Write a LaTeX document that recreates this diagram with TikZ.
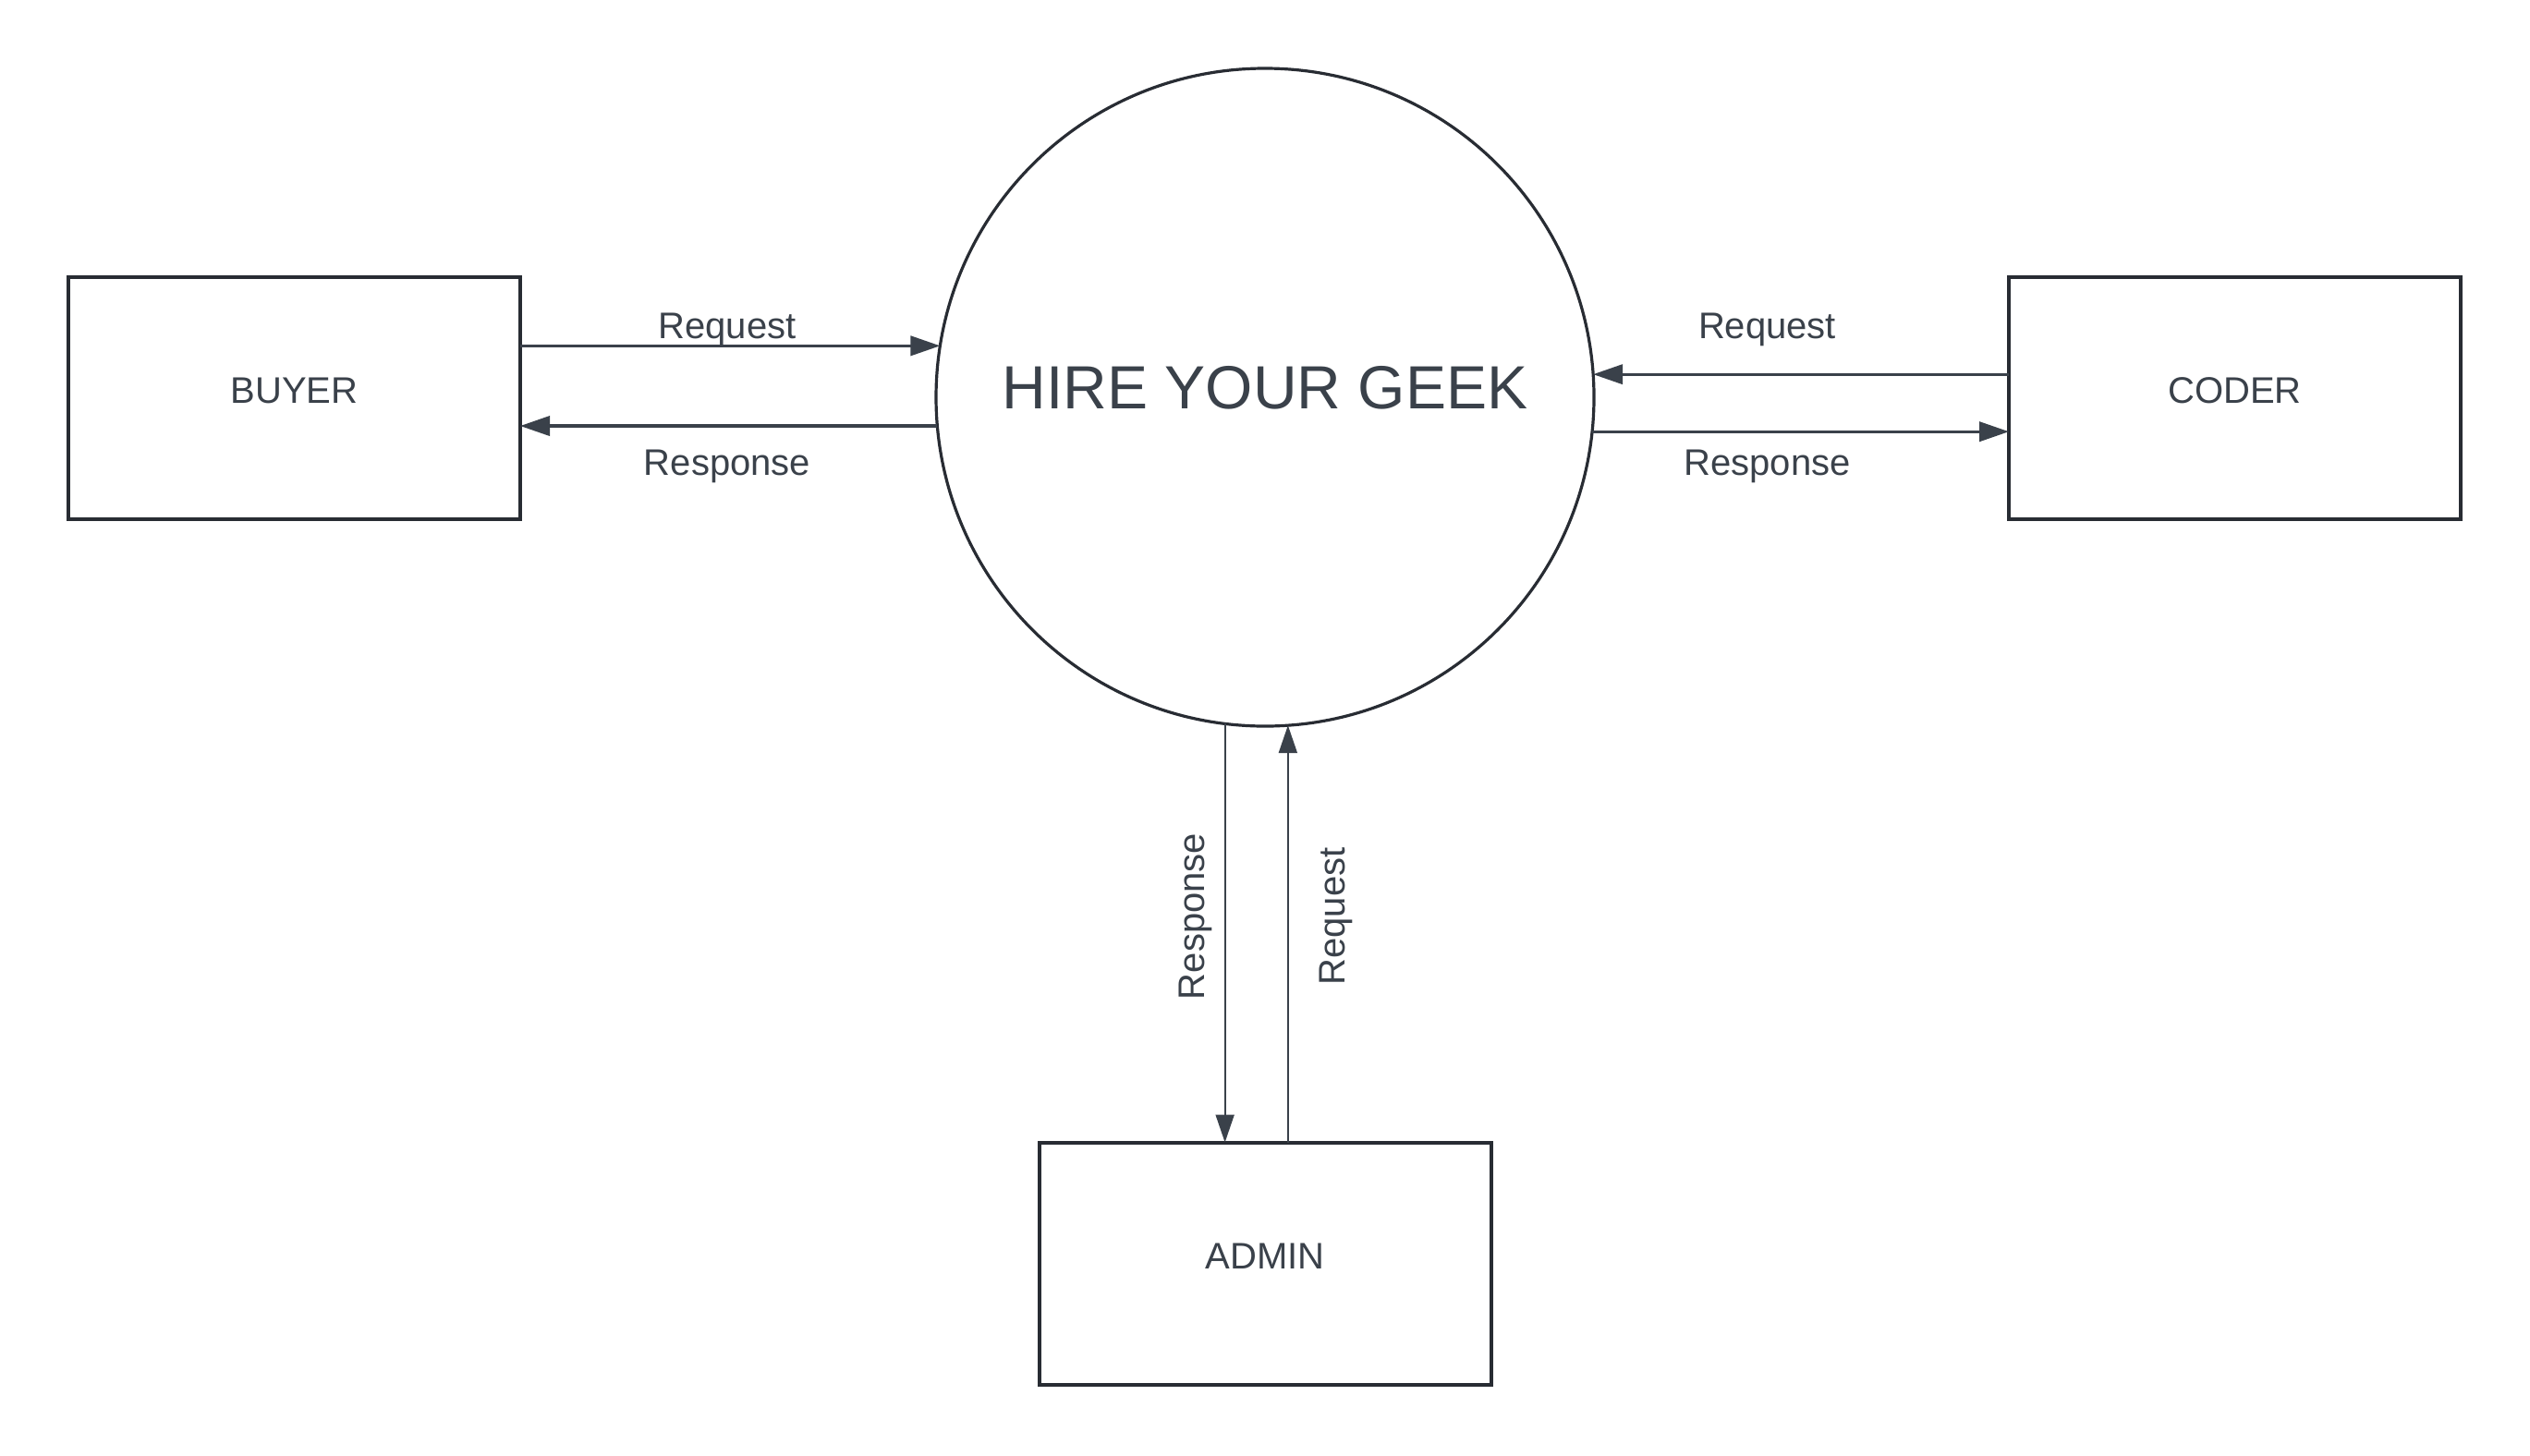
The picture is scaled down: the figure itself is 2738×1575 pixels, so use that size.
\documentclass[tikz,border=0pt]{standalone}
\usepackage{fontspec}
\setmainfont{Liberation Sans}
\usetikzlibrary{arrows.meta}
\definecolor{ink}{RGB}{58,65,74}
\definecolor{edgecol}{RGB}{40,44,51}
\begin{document}
\begin{tikzpicture}[x=0.25pt,y=-0.25pt,
  entity/.style={draw=edgecol,line width=1pt,minimum width=122.25pt,minimum height=65.5pt,
    inner sep=0pt,outer sep=0pt,text=ink,font=\fontsize{10pt}{12pt}\selectfont,text depth=4pt},
  process/.style={circle,draw=edgecol,line width=0.8pt,minimum size=178pt,inner sep=0pt,outer sep=0pt,
    text=ink,font=\fontsize{16.5pt}{19pt}\selectfont,text depth=5.5pt},
  flow/.style={draw=ink,line width=0.8pt,-{Triangle[length=8pt,width=5.3pt]}},
  vflow/.style={draw=ink,line width=0.5pt,-{Triangle[length=7.5pt,width=5pt]}},
  lab/.style={text=ink,font=\fontsize{10pt}{12pt}\selectfont,inner sep=0pt,anchor=base}]
\fill[white] (0,0) rectangle (2738,1575);
\useasboundingbox (0,0) rectangle (2738,1575);

\node[process] (hyg) at (1369,430) {HIRE YOUR GEEK};
\node[entity] (buyer) at (318.5,431) {BUYER};
\node[entity] (coder) at (2418.5,431) {CODER};
\node[entity] (admin) at (1369,1367.5) {ADMIN};

% buyer
\draw[flow] (buyer.east |- hyg.171.46) -- (hyg.171.46);
\draw[flow] (hyg.185.14) -- (buyer.east |- hyg.185.14);
\node[lab] (lbreq) at (787,366) {Request};
\node[lab] (lbres) at (787,514) {Response};

% coder
\draw[flow] (coder.west |- hyg.4.18) -- (hyg.4.18);
\draw[flow] (hyg.354.8) -- (coder.west |- hyg.354.8);
\node[lab] (lcreq) at (1912.5,366) {Request};
\node[lab] (lcres) at (1912.5,514) {Response};

% admin
\draw[vflow] (hyg.263.08) -- (admin.north -| hyg.263.08);
\draw[vflow] (admin.north -| hyg.274.74) -- (hyg.274.74);
\node[lab,rotate=90] (lares) at (1303,992) {Response};
\node[lab,rotate=90] (lareq) at (1455,992) {Request};
\end{tikzpicture}
\end{document}
